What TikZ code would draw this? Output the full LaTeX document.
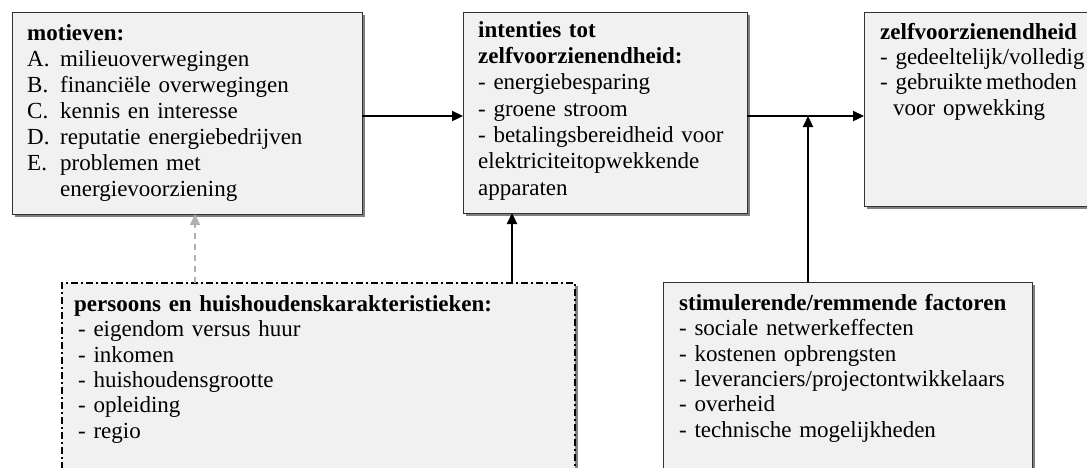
\documentclass[tikz,border=0pt]{standalone}
\usepackage{fontspec}
\setmainfont{Liberation Serif}
\usetikzlibrary{arrows.meta,shadows}
\definecolor{boxfill}{HTML}{F1F1F1}
\definecolor{boxshade}{HTML}{808080}
\definecolor{linkgray}{HTML}{B0B0B0}
\newcommand{\lstrut}{\rule{0pt}{20pt}}
\newcommand{\itm}[1]{\makebox[33pt][l]{#1}}
\tikzset{
  box/.style={draw=black!80, line width=0.8pt, fill=boxfill, anchor=north west,
    inner sep=0pt, outer sep=0pt,
    drop shadow={shadow xshift=3pt, shadow yshift=-3pt, fill=boxshade, opacity=1}},
  dashdot/.style={draw=black, line width=1.8pt, dash pattern=on 7pt off 3pt on 2pt off 3pt},
  txt/.style={anchor=north west, inner sep=0pt, text width=480pt, align=left,
    font=\fontsize{23}{26}\selectfont},
  arr/.style={line width=2.3pt, -{Triangle[length=11pt,width=10pt]}},
  grayarr/.style={linkgray, line width=1.6pt, dash pattern=on 6pt off 5pt,
    -{Triangle[length=11pt,width=10pt]}},
}
\begin{document}
\begin{tikzpicture}[x=1pt,y=-1pt]
    \useasboundingbox (0,0) rectangle (1087,467);
    \clip (0,0) rectangle (1087,467);
    % boxes
    \node[box, minimum width=350pt, minimum height=202pt] (motieven) at (12,12) {};
    \node[box, minimum width=284pt, minimum height=201pt] (intent) at (463,12) {};
    \node[box, minimum width=260pt, minimum height=194pt] (zelf) at (864,12) {};
    \node[box, dashdot, minimum width=513pt, minimum height=220pt] (pers) at (62,283) {};
    \node[box, minimum width=369pt, minimum height=220pt] (stim) at (663,282) {};
    % texts
    \node[txt] (motievenTxt) at (27,20) {\lstrut\textbf{motieven:}\\
        \itm{A.}milieuoverwegingen\\
        \itm{B.}financiële overwegingen\\
        \itm{C.}kennis en interesse\\
        \itm{D.}reputatie energiebedrijven\\
        \itm{E.}problemen met\\
        \hspace*{33pt}energievoorziening};
    \node[txt, font=\fontsize{23}{26.3}\selectfont] (intentTxt) at (478,17) {\lstrut\textbf{intenties tot}\\
        \textbf{zelfvoorzienendheid:}\\
        - energiebesparing\\
        - groene stroom\\
        - betalingsbereidheid voor\\
        elektriciteitopwekkende\\
        apparaten};
    \node[txt, font=\fontsize{23}{25.3}\selectfont] (zelfTxt) at (880,19) {\lstrut\textbf{zelfvoorzienendheid}\\
        - gedeeltelijk/volledig\\
        - gebruikte\,methoden\\
        \hspace*{13pt}voor opwekking};
    \node[txt, font=\fontsize{23}{25.4}\selectfont] (persTxt) at (74,291) {\lstrut\textbf{persoons en huishoudenskarakteristieken:}\\
        \hspace*{4pt}- eigendom versus huur\\
        \hspace*{4pt}- inkomen\\
        \hspace*{4pt}- huishoudensgrootte\\
        \hspace*{4pt}- opleiding\\
        \hspace*{4pt}- regio};
    \node[txt, font=\fontsize{23}{25.4}\selectfont] (stimTxt) at (679,290) {\lstrut\textbf{stimulerende/remmende factoren}\\
        - sociale netwerkeffecten\\
        - kostenen opbrengsten\\
        - leveranciers/projectontwikkelaars\\
        - overheid\\
        - technische mogelijkheden};
    % connectors
    \coordinate (row) at (0,116);
    \coordinate (colPers) at (195,0);
    \coordinate (colIntent) at (512,0);
    \coordinate (colStim) at (808,0);
    \draw[arr] (motieven.east |- row) -- (intent.west |- row);
    \draw[arr] (intent.east |- row) -- (zelf.west |- row);
    \draw[arr] (stim.north -| colStim) -- (colStim |- row);
    \draw[arr] (pers.north -| colIntent) -- (intent.south -| colIntent);
    \draw[grayarr] (pers.north -| colPers) -- (motieven.south -| colPers);
\end{tikzpicture}
\end{document}
